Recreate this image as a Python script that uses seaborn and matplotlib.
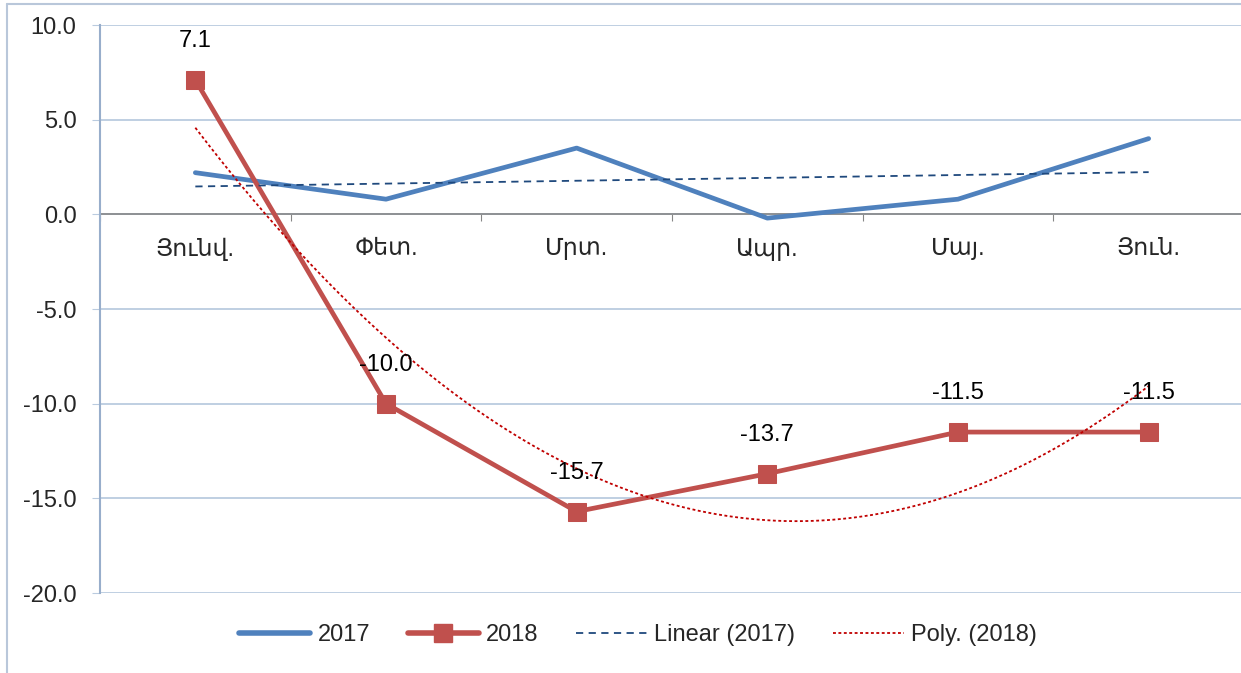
import numpy as np
import pandas as pd
import matplotlib
matplotlib.use("Agg")
import matplotlib.pyplot as plt
import seaborn as sns
from matplotlib.lines import Line2D
from matplotlib.ticker import FormatStrFormatter, FixedLocator

months = ["Յունվ.", "Փետ.", "Մրտ.", "Ապր.", "Մայ.", "Յուն."]
vals_2017 = [2.2, 0.8, 3.5, -0.2, 0.8, 4.0]
vals_2018 = [7.1, -10.0, -15.7, -13.7, -11.5, -11.5]
labels_2018 = ["7.1", "-10.0", "-15.7", "-13.7", "-11.5", "-11.5"]
yticks = [-20, -15, -10, -5, 0, 5, 10]

sns.set_style("white")
plt.rcParams['font.family'] = ['Liberation Sans', 'DejaVu Sans']

C17 = "#4F81BD"
C18 = "#C0504D"
CLIN = "#1F497D"
CPOLY = "#C00000"
GRID = "#BACBDF"
AXC = "#98AECB"
FS = 17

fig = plt.figure(figsize=(12.41, 6.73), dpi=100)
ax = fig.add_axes([100/1241, 1-593/673, 1144/1241, (593-25)/673])

x = np.arange(1, len(months) + 1)
df = pd.DataFrame({"x": np.concatenate([x, x]),
                   "y": vals_2017 + vals_2018,
                   "year": ["2017"]*6 + ["2018"]*6})

sns.lineplot(data=df[df.year == "2017"], x="x", y="y", color=C17, lw=3.4,
             ax=ax, legend=False, zorder=3, solid_capstyle="round")
sns.lineplot(data=df[df.year == "2018"], x="x", y="y", color=C18, lw=3.4,
             marker="s", markersize=13, markeredgecolor=C18, ax=ax,
             legend=False, zorder=4)

# trendlines (as Excel computes them)
lin = np.polyfit(x, vals_2017, 1)
xs = np.linspace(1, 6, 200)
sns.lineplot(x=xs, y=np.polyval(lin, xs), color=CLIN, lw=1.3, ax=ax,
             zorder=5).lines[-1].set_dashes((4, 3))
poly = np.polyfit(x, vals_2018, 2)
sns.lineplot(x=xs, y=np.polyval(poly, xs), color=CPOLY, lw=1.3, ax=ax,
             zorder=5).lines[-1].set_dashes((1.6, 1.4))

for xi, yi, lab in zip(x, vals_2018, labels_2018):
    ax.annotate(lab, (xi, yi), xytext=(0, 28), textcoords="offset points",
                ha="center", va="center", fontsize=FS, color="black", zorder=6)

ax.set_xlim(0.5, 6.5)
ax.set_ylim(-20, 10)
ax.set_yticks(yticks)
ax.yaxis.set_major_formatter(FormatStrFormatter('%.1f'))
ax.tick_params(axis="y", length=6, color=GRID, labelsize=FS, pad=11, left=True)
ax.yaxis.grid(True, color=GRID, lw=1.3)
ax.set_axisbelow(True)
ax.set_xlabel("")
ax.set_ylabel("")

# category axis at zero
ax.spines["bottom"].set_position(("data", 0))
ax.spines["bottom"].set_color("#868686")
ax.spines["bottom"].set_linewidth(1.2)
ax.spines["bottom"].set_zorder(2)
ax.spines["top"].set_visible(False)
ax.spines["right"].set_visible(False)
ax.spines["left"].set_color(AXC)
ax.spines["left"].set_linewidth(1.5)
ax.xaxis.set_major_locator(FixedLocator(np.arange(0.5, 7, 1)))
ax.xaxis.set_minor_locator(FixedLocator(x))
ax.set_xticklabels([""] * 7)
ax.set_xticklabels(months, minor=True)
ax.tick_params(axis="x", which="major", length=5, color="#868686", direction="out", bottom=True)
ax.tick_params(axis="x", which="minor", length=0, labelsize=FS, pad=17)

# legend
handles = [
    Line2D([], [], color=C17, lw=4, solid_capstyle="round"),
    Line2D([], [], color=C18, lw=4, marker="s", markersize=13),
    Line2D([], [], color=CLIN, lw=1.3, dashes=(4, 3)),
    Line2D([], [], color=CPOLY, lw=1.3, dashes=(1.6, 1.4)),
]
fig.legend(handles, ["2017", "2018", "Linear (2017)", "Poly. (2018)"],
           loc="center", bbox_to_anchor=(638/1241, 1-635/673), ncol=4,
           frameon=False, fontsize=FS, handlelength=3.0, handletextpad=0.3,
           columnspacing=1.6)

# chart area border
fig.add_artist(Line2D([7/1241, 7/1241], [0, 1-4/673], transform=fig.transFigure,
                      color="#B9C7DA", lw=1.5))
fig.add_artist(Line2D([7/1241, 1], [1-4/673, 1-4/673], transform=fig.transFigure,
                      color="#B9C7DA", lw=1.5))

fig.savefig("out.png", dpi=100)
